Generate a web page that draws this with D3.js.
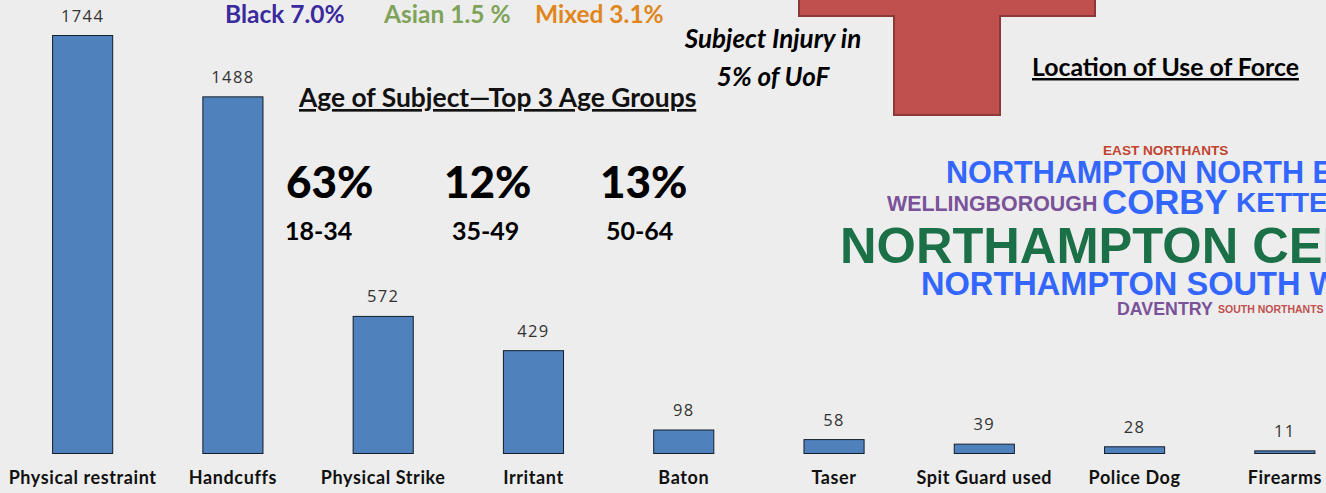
<!DOCTYPE html>
<html>
<head>
<meta charset="utf-8">
<script src="https://cdn.jsdelivr.net/npm/d3@7"></script>
<style>
html, body { margin: 0; padding: 0; background: #ededed; overflow: hidden; }
svg { display: block; }
</style>
</head>
<body>
<div id="chart"></div>
<script>
var width = 1326,
    height = 493;

// Use of force tactics
var categories = ["Physical restraint", "Handcuffs", "Physical Strike", "Irritant", "Baton", "Taser", "Spit Guard used", "Police Dog", "Firearms"];
var values = [1744, 1488, 572, 429, 98, 58, 39, 28, 11];

// Ethnicity line at the top
var ethnicLabels = ["Black 7.0%", "Asian 1.5 %", "Mixed 3.1%"];
var ethnicColors = ["#3a2a9e", "#7fa35a", "#e0861c"];

// Age groups
var agePercents = ["63%", "12%", "13%"];
var ageGroups = ["18-34", "35-49", "50-64"];

// Location word cloud
var places = ["EAST NORTHANTS", "NORTHAMPTON NORTH EAST", "WELLINGBOROUGH", "CORBY", "KETTERING", "NORTHAMPTON CENTRAL", "NORTHAMPTON SOUTH WEST", "DAVENTRY", "SOUTH NORTHANTS"];
var placeColors = ["#c0442f", "#3366ff", "#7a5299", "#3366ff", "#3366ff", "#1b7048", "#3366ff", "#7a5299", "#c0504d"];
var placeSizes = [13.6, 30.6, 21.4, 34.8, 28, 50.6, 32.6, 17.8, 10.5];
var placeX = [1103, 946, 887, 1102, 1236, 840, 921, 1117, 1218];
var placeY = [155, 183, 211, 214, 212, 263, 295, 315, 313];

var font = "Lato, 'Noto Sans', sans-serif";

var svg = d3.select("#chart").append("svg")
    .attr("width", width)
    .attr("height", height);

svg.append("rect")
    .attr("width", width)
    .attr("height", height)
    .attr("fill", "#ededed");

// scales
var x = d3.scaleBand()
    .domain(categories)
    .range([7.5, 1360])
    .paddingInner(0.6)
    .paddingOuter(0.3);

var y = d3.scaleLinear()
    .domain([0, 1744])
    .range([453.5, 35.5]);

// bars
svg.selectAll(".bar")
    .data(values)
    .enter().append("rect")
    .attr("class", "bar")
    .attr("x", function(d, i) { return x(categories[i]); })
    .attr("y", function(d) { return y(d); })
    .attr("width", x.bandwidth())
    .attr("height", function(d) { return y(0) - y(d); })
    .attr("fill", "#4f81bd")
    .attr("stroke", "#141e2a")
    .attr("stroke-width", 1);

// value labels
svg.selectAll(".value")
    .data(values)
    .enter().append("text")
    .attr("class", "value")
    .attr("x", function(d, i) { return x(categories[i]) + x.bandwidth() / 2; })
    .attr("y", function(d) { return y(d) - 14; })
    .attr("text-anchor", "middle")
    .attr("font-family", "'Open Sans', sans-serif")
    .attr("font-size", 16.5)
    .attr("letter-spacing", 1.4)
    .attr("fill", "#333")
    .text(function(d) { return d; });

// category axis, line and ticks hidden
var xAxis = svg.append("g")
    .attr("transform", "translate(0,453.5)")
    .call(d3.axisBottom(x).tickSize(0).tickPadding(18));
xAxis.select(".domain").remove();
xAxis.selectAll("text")
    .attr("font-family", font)
    .attr("font-size", 18)
    .attr("font-weight", 700)
    .attr("letter-spacing", 0.6)
    .attr("fill", "#111");

// ethnicity
var ethnicX = [225, 384, 535];
svg.selectAll(".ethnic")
    .data(ethnicLabels)
    .enter().append("text")
    .attr("class", "ethnic")
    .attr("x", function(d, i) { return ethnicX[i]; })
    .attr("y", 23)
    .attr("font-family", font)
    .attr("font-size", 24.5)
    .attr("font-weight", 700)
    .attr("fill", function(d, i) { return ethnicColors[i]; })
    .text(function(d) { return d; });

// age block
svg.append("text")
    .attr("x", 299)
    .attr("y", 107)
    .attr("font-family", font)
    .attr("font-size", 26.4)
    .attr("font-weight", 700)
    .attr("fill", "#111")
    .attr("text-decoration", "underline")
    .text("Age of Subject\u2014Top 3 Age Groups");

var ageX = [286, 444, 600];
svg.selectAll(".age-pct")
    .data(agePercents)
    .enter().append("text")
    .attr("class", "age-pct")
    .attr("x", function(d, i) { return ageX[i]; })
    .attr("y", 198)
    .attr("font-family", font)
    .attr("font-size", 44)
    .attr("font-weight", 900)
    .attr("fill", "#000")
    .text(function(d) { return d; });

var ageLabelX = [285, 452, 606];
svg.selectAll(".age-group")
    .data(ageGroups)
    .enter().append("text")
    .attr("class", "age-group")
    .attr("x", function(d, i) { return ageLabelX[i]; })
    .attr("y", 240)
    .attr("font-family", font)
    .attr("font-size", 25)
    .attr("font-weight", 700)
    .attr("fill", "#000")
    .text(function(d) { return d; });

// injury note
svg.selectAll(".injury")
    .data(["Subject Injury in", "5% of UoF"])
    .enter().append("text")
    .attr("class", "injury")
    .attr("x", 773)
    .attr("y", function(d, i) { return 48 + i * 38; })
    .attr("text-anchor", "middle")
    .attr("font-family", font)
    .attr("font-size", 26)
    .attr("font-weight", 700)
    .attr("font-style", "italic")
    .attr("fill", "#000")
    .text(function(d) { return d; });

// red cross, cut off by the top of the picture
var cross = d3.path();
cross.moveTo(799, -5);
cross.lineTo(799, 16);
cross.lineTo(894, 16);
cross.lineTo(894, 115);
cross.lineTo(1000, 115);
cross.lineTo(1000, 16);
cross.lineTo(1095, 16);
cross.lineTo(1095, -5);
cross.closePath();
svg.append("path")
    .attr("d", cross.toString())
    .attr("fill", "#c0504d")
    .attr("stroke", "#8c3836")
    .attr("stroke-width", 2);

// location title and word cloud
svg.append("text")
    .attr("x", 1032)
    .attr("y", 76)
    .attr("font-family", font)
    .attr("font-size", 24.8)
    .attr("font-weight", 700)
    .attr("fill", "#000")
    .attr("text-decoration", "underline")
    .text("Location of Use of Force");

svg.selectAll(".place")
    .data(places)
    .enter().append("text")
    .attr("class", "place")
    .attr("x", function(d, i) { return placeX[i]; })
    .attr("y", function(d, i) { return placeY[i]; })
    .attr("font-family", "'Liberation Sans', Arial, sans-serif")
    .attr("font-size", function(d, i) { return placeSizes[i]; })
    .attr("font-weight", 700)
    .attr("fill", function(d, i) { return placeColors[i]; })
    .text(function(d) { return d; });
</script>
</body>
</html>
